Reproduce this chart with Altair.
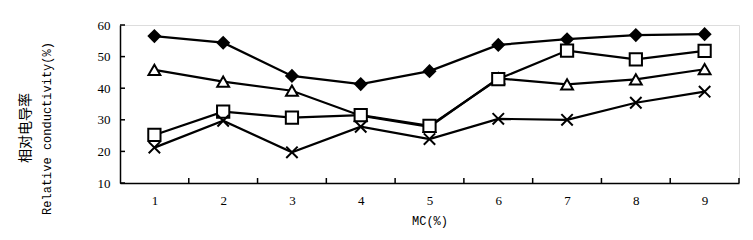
import altair as alt
import pandas as pd

mc = [1, 2, 3, 4, 5, 6, 7, 8, 9]
diamond = [56.5, 54.4, 43.9, 41.3, 45.4, 53.7, 55.5, 56.8, 57.1]
triangle = [45.8, 42.1, 39.2, 31.3, 27.8, 43.1, 41.2, 42.8, 46.0]
square = [25.2, 32.6, 30.7, 31.5, 28.1, 42.9, 51.9, 49.1, 51.8]
cross = [21.2, 29.7, 19.7, 27.8, 23.9, 30.3, 30.0, 35.4, 38.9]
y_ticks = [10, 20, 30, 40, 50, 60]
x_edges = [1.5, 2.5, 3.5, 4.5, 5.5, 6.5, 7.5, 8.5, 9.5]
title_cn = "相对电导率"
title_en = "Relative conductivity(%)"
title_x = "MC(%)"

series = {"diamond": diamond, "triangle": triangle, "square": square, "cross": cross}
rows = []
for name, vals in series.items():
    for x, v in zip(mc, vals):
        rows.append({"mc": x, "value": v, "series": name})
df = pd.DataFrame(rows)

W, H = 619, 158
xs = alt.Scale(domain=[0.5, 9.5], nice=False, zero=False)
ys = alt.Scale(domain=[10, 60], nice=False, zero=False)

x_axis = alt.Axis(
    values=mc, format="d", ticks=False, grid=False, title=title_x, labelPadding=11,
    titlePadding=8, labelFont="Liberation Serif", labelFontSize=13, labelOverlap=False,
    titleFont="Liberation Mono", titleFontSize=12, titleFontWeight="normal",
    domainColor="black", domainWidth=1.5, labelColor="black", titleColor="black")
y_axis = alt.Axis(
    values=y_ticks, format="d", ticks=False, grid=False, labelPadding=10, labelOverlap=False,
    title=title_en,
    titleX=-67, titleY=103, titleAngle=-90, titleBaseline="bottom", titleAlign="center",
    labelFont="Liberation Serif", labelFontSize=13,
    titleFont="Liberation Mono", titleFontSize=12, titleFontWeight="normal",
    domainColor="black", domainWidth=1.5, labelColor="black", titleColor="black")

def X():
    return alt.X("mc:Q", scale=xs, axis=x_axis)

def Y():
    return alt.Y("value:Q", scale=ys, axis=y_axis)

base = alt.Chart(df)
lines = base.mark_line(color="black", strokeWidth=2.2).encode(x=X(), y=Y(), detail="series:N")

xshape = "M-1,-1L1,1M-1,1L1,-1"
pts = []
pts.append(base.transform_filter("datum.series=='diamond'").mark_point(
    shape="diamond", filled=True, color="black", size=200, opacity=1).encode(x=X(), y=Y()))
pts.append(base.transform_filter("datum.series=='triangle'").mark_point(
    shape="triangle-up", filled=True, fill="white", stroke="black", strokeWidth=2, size=140, opacity=1).encode(x=X(), y=Y()))
pts.append(base.transform_filter("datum.series=='square'").mark_point(
    shape="square", filled=True, fill="white", stroke="black", strokeWidth=2, size=150, opacity=1).encode(x=X(), y=Y()))
pts.append(base.transform_filter("datum.series=='cross'").mark_point(
    shape=xshape, filled=False, color="black", strokeWidth=2, size=130, opacity=1).encode(x=X(), y=Y()))

ytick_df = pd.DataFrame({"value": y_ticks})
yticks = alt.Chart(ytick_df).mark_rule(color="black", strokeWidth=1.5).encode(
    y=Y(), x=alt.value(0), x2=alt.value(5))
xtick_df = pd.DataFrame({"mc": x_edges})
xticks = alt.Chart(xtick_df).mark_rule(color="black", strokeWidth=1.5).encode(
    x=X(), y=alt.value(H), y2=alt.value(H - 5))

cn_title = alt.Chart(pd.DataFrame({"t": [title_cn]})).mark_text(
    angle=270, font="Noto Sans CJK SC", fontSize=14, color="black", baseline="middle", align="center"
).encode(text="t:N", x=alt.value(-94), y=alt.value(103))

chart = alt.layer(lines, *pts, yticks, xticks, cn_title).properties(
    width=W, height=H,
    autosize=alt.AutoSizeParams(type="none"),
    padding={"left": 112, "top": 17, "right": 6, "bottom": 49},
).configure_view(stroke=None).configure(background="white")

chart.save("out.html", embed_options={"renderer": "svg", "actions": False})
